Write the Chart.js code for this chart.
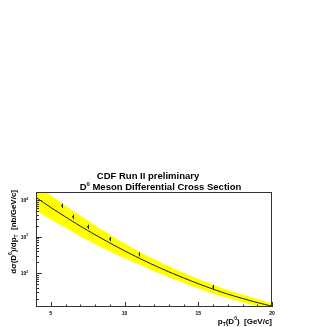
<!DOCTYPE html>
<html>
<head>
<meta charset="utf-8">
<script src="https://cdn.jsdelivr.net/npm/chart.js@4/dist/chart.umd.min.js"></script>
<style>
html,body{margin:0;padding:0;background:#fff;}
#wrap{width:327px;height:327px;}
</style>
</head>
<body>
<div id="wrap"><canvas id="c" width="327" height="327"></canvas></div>
<script>
// ---- data ----
const xCurve  = [4, 5, 6, 7, 8, 9, 10, 11, 12, 13, 14, 15, 16, 17, 18, 19, 20];
const yCenter = [11800, 6300, 3470, 1950, 1135, 676, 412, 258, 166, 110, 75, 52, 37, 27, 20.5, 15.9, 12.6];
const yUpper  = [26700, 13500, 6920, 3780, 2065, 1150, 660, 389, 242, 155, 103, 70, 49, 35, 26.3, 19.8, 15.2];
const yLower  = [5210, 2950, 1740, 1007, 624, 396, 257, 171, 114, 78, 54.7, 38.7, 27.9, 20.7, 16, 12.75, 10.4];

const xPts   = [5.75, 6.5, 7.5, 9, 11, 16];
const yPts   = [7000, 3500, 1860, 860, 330, 42];
const yErrLo = [6100, 3050, 1620, 750, 288, 36.6];
const yErrHi = [8000, 4000, 2130, 985, 378, 48];

const xTickLabels = [5, 10, 15, 20];
const yTickDecades = [2, 3, 4];

const title1 = "CDF Run II preliminary";
const title2 = [["D", 0], ["0", 1], [" Meson Differential Cross Section", 0]];
const yTitle = [["d\u03c3(D", 0], ["0", 1], [")/dp", 0], ["T", -1], ["  [nb/GeV/c]", 0]];
const xTitle = [["p", 0], ["T", -1], ["(D", 0], ["0", 1], [")  [GeV/c]", 0]];

const FONT = "'Liberation Sans', Arial, Helvetica, sans-serif";

function drawRich(ctx, parts, x, y, align, size) {
  const pieces = parts.map(([t, k]) => {
    const s = k === 0 ? size : size * 0.62;
    ctx.font = "bold " + s + "px " + FONT;
    return {t, k, s, w: ctx.measureText(t).width};
  });
  const total = pieces.reduce((a, p) => a + p.w, 0);
  let cx = align === 'center' ? x - total / 2 : (align === 'right' ? x - total : x);
  ctx.textAlign = 'left';
  ctx.textBaseline = 'alphabetic';
  for (const p of pieces) {
    ctx.font = "bold " + p.s + "px " + FONT;
    const dy = p.k === 1 ? -size * 0.45 : (p.k === -1 ? size * 0.22 : 0);
    ctx.fillText(p.t, cx, y + dy);
    cx += p.w;
  }
}

const decor = {
  id: 'decor',
  afterDatasetsDraw(chart) {
    const ctx = chart.ctx, xs = chart.scales.x, ys = chart.scales.y;
    ctx.save();
    ctx.strokeStyle = '#222';
    ctx.lineWidth = 1;
    for (let i = 0; i < xPts.length; i++) {
      const px = Math.round(xs.getPixelForValue(xPts[i])) + 0.5;
      ctx.beginPath();
      ctx.moveTo(px, ys.getPixelForValue(yErrLo[i]));
      ctx.lineTo(px, ys.getPixelForValue(yErrHi[i]));
      ctx.stroke();
    }
    ctx.restore();
  },
  afterDraw(chart) {
    const ctx = chart.ctx, a = chart.chartArea, xs = chart.scales.x, ys = chart.scales.y;
    ctx.save();
    ctx.strokeStyle = '#333';
    ctx.lineWidth = 1;
    ctx.strokeRect(Math.round(a.left) + 0.5, Math.round(a.top) + 0.5,
                   Math.round(a.right - a.left) - 1, Math.round(a.bottom - a.top) - 1);
    // x ticks (inward)
    ctx.beginPath();
    for (let v = Math.ceil(xs.min); v <= xs.max; v++) {
      const px = Math.round(xs.getPixelForValue(v)) + 0.5;
      const len = (v % 5 === 0) ? 5 : 2.5;
      ctx.moveTo(px, a.bottom);
      ctx.lineTo(px, a.bottom - len);
    }
    // y ticks (inward, log)
    for (let e = 1; e <= 4; e++) {
      for (let m = 1; m <= 9; m++) {
        const v = m * Math.pow(10, e);
        if (v < ys.min || v > ys.max) continue;
        const py = Math.round(ys.getPixelForValue(v)) + 0.5;
        const len = (m === 1) ? 6 : 3;
        ctx.moveTo(a.left, py);
        ctx.lineTo(a.left + len, py);
      }
    }
    ctx.stroke();
    ctx.fillStyle = '#000';
    // y tick labels
    for (const e of yTickDecades) {
      const py = ys.getPixelForValue(Math.pow(10, e));
      drawRich(ctx, [["10", 0], [String(e), 1]], 28, py + 2, 'right', 5);
    }
    // titles
    ctx.font = "bold 9.5px " + FONT;
    ctx.textAlign = 'center';
    ctx.textBaseline = 'alphabetic';
    ctx.fillText(title1, 148, 178.7);
    drawRich(ctx, title2, 160.5, 190.3, 'center', 9.5);
    drawRich(ctx, xTitle, a.right, 324, 'right', 8);
    ctx.save();
    ctx.translate(16, a.top - 2);
    ctx.rotate(-Math.PI / 2);
    drawRich(ctx, yTitle, 0, 0, 'right', 8);
    ctx.restore();
    ctx.restore();
  }
};

const pts = (xa, ya) => xa.map((x, i) => ({x, y: ya[i]}));

new Chart(document.getElementById('c'), {
  type: 'line',
  data: {
    datasets: [
      {data: pts(xCurve, yUpper), order: 3, borderWidth: 0, pointRadius: 0, fill: '+1',
       backgroundColor: '#ffff00', borderColor: 'rgba(0,0,0,0)', tension: 0.3},
      {data: pts(xCurve, yLower), order: 2, borderWidth: 0, pointRadius: 0, fill: false,
       borderColor: 'rgba(0,0,0,0)', tension: 0.3},
      {data: pts(xCurve, yCenter), order: 1, borderWidth: 1, pointRadius: 0, fill: false,
       borderColor: '#1a1a1a', tension: 0.3},
      {type: 'scatter', order: 0, data: pts(xPts, yPts), pointRadius: 0.8, pointBackgroundColor: '#111',
       pointBorderWidth: 0, showLine: false}
    ]
  },
  options: {
    responsive: false,
    animation: false,
    events: [],
    layout: {padding: {top: 192, right: 55, left: 0, bottom: 0}},
    plugins: {legend: {display: false}, tooltip: {enabled: false}, title: {display: false}},
    scales: {
      x: {
        type: 'linear', min: 4, max: 20,
        grid: {display: false, drawTicks: false},
        border: {display: false},
        afterFit(s) { s.height = 20; },
        ticks: {
          stepSize: 1, autoSkip: false, maxRotation: 0, padding: 4,
          color: '#000', font: {size: 5, weight: 'bold', family: FONT},
          callback: (v) => xTickLabels.includes(v) ? String(v) : ''
        }
      },
      y: {
        type: 'logarithmic', min: 12, max: 16600,
        grid: {display: false, drawTicks: false},
        border: {display: false},
        afterFit(s) { s.width = 36; },
        ticks: {display: false}
      }
    }
  },
  plugins: [decor]
});
</script>
</body>
</html>
